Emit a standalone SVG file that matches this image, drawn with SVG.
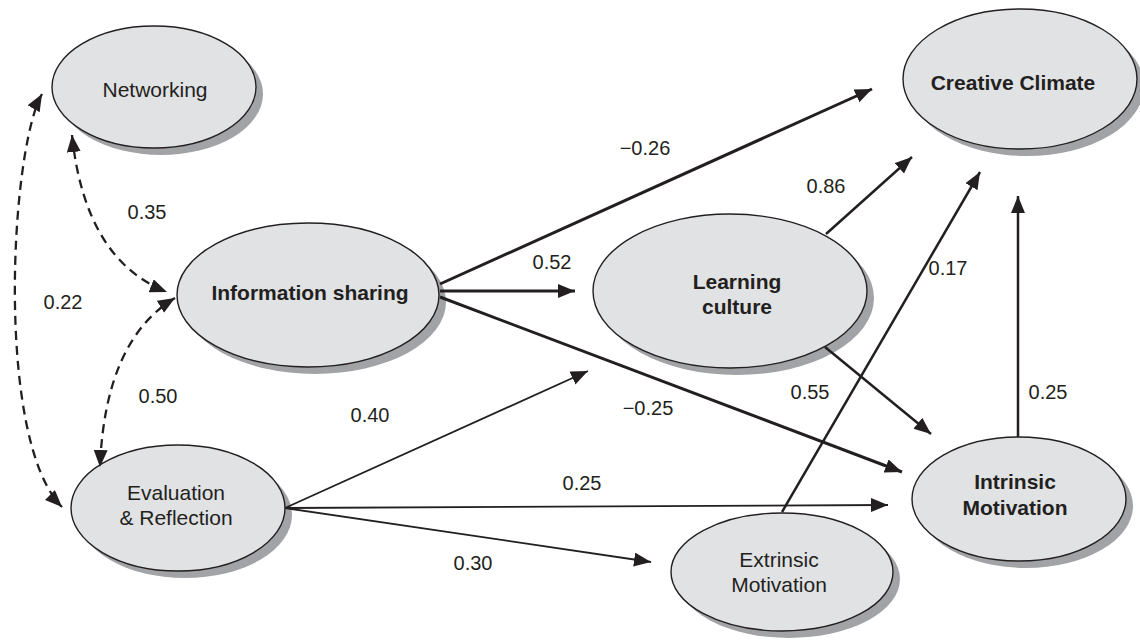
<svg xmlns="http://www.w3.org/2000/svg" width="1140" height="644" viewBox="0 0 1140 644">
<defs>
<style>
.t{font-family:"Liberation Sans",Arial,Helvetica,sans-serif;font-size:21px;fill:#231f20;text-anchor:middle}
.b{font-weight:bold}
.lbl{font-family:"Liberation Sans",Arial,Helvetica,sans-serif;font-size:20px;fill:#231f20;text-anchor:middle}
.thick{fill:none;stroke:#231f20;stroke-width:3;marker-end:url(#ah)}
.med{fill:none;stroke:#231f20;stroke-width:2.5;marker-end:url(#ah)}
.thin{fill:none;stroke:#231f20;stroke-width:1.8;marker-end:url(#ah)}
.dash{fill:none;stroke:#231f20;stroke-width:2.3;stroke-dasharray:9 6;marker-start:url(#ahs);marker-end:url(#ah)}
</style>
<marker id="ah" markerUnits="userSpaceOnUse" markerWidth="20" markerHeight="16" refX="17" refY="7" orient="auto">
<path d="M0,0 L17,7 L0,14 Z" fill="#231f20"/>
</marker>
<marker id="ahs" markerUnits="userSpaceOnUse" markerWidth="20" markerHeight="16" refX="17" refY="7" orient="auto-start-reverse">
<path d="M0,0 L17,7 L0,14 Z" fill="#231f20"/>
</marker>
</defs>
<rect width="1140" height="644" fill="#ffffff"/>

<g id="node-networking">
<ellipse fill="#a2a3a6" cx="161" cy="94" rx="102" ry="61"/>
<ellipse fill="#e1e2e4" stroke="#231f20" stroke-width="1.4" cx="154" cy="87" rx="102" ry="61"/>
<text class="t" x="155" y="97">Networking</text>
</g>
<g id="node-information-sharing">
<ellipse fill="#a2a3a6" cx="315" cy="302" rx="131" ry="72"/>
<ellipse fill="#e1e2e4" stroke="#231f20" stroke-width="1.4" cx="308" cy="295" rx="131" ry="72"/>
<text class="t b" x="310" y="300">Information sharing</text>
</g>
<g id="node-evaluation">
<ellipse fill="#a2a3a6" cx="185" cy="515" rx="107" ry="63"/>
<ellipse fill="#e1e2e4" stroke="#231f20" stroke-width="1.4" cx="178" cy="508" rx="107" ry="63"/>
<text class="t" x="176" y="500">Evaluation</text>
<text class="t" x="176" y="525">&amp; Reflection</text>
</g>
<g id="node-learning-culture">
<ellipse fill="#a2a3a6" cx="737" cy="298" rx="137" ry="77"/>
<ellipse fill="#e1e2e4" stroke="#231f20" stroke-width="1.4" cx="730" cy="291" rx="137" ry="77"/>
<text class="t b" x="737" y="289">Learning</text>
<text class="t b" x="737" y="314">culture</text>
</g>
<g id="node-creative-climate">
<ellipse fill="#a2a3a6" cx="1027" cy="86" rx="117" ry="70"/>
<ellipse fill="#e1e2e4" stroke="#231f20" stroke-width="1.4" cx="1020" cy="79" rx="117" ry="70"/>
<text class="t b" x="1013" y="90">Creative Climate</text>
</g>
<g id="node-intrinsic-motivation">
<ellipse fill="#a2a3a6" cx="1026" cy="506" rx="107" ry="62"/>
<ellipse fill="#e1e2e4" stroke="#231f20" stroke-width="1.4" cx="1019" cy="499" rx="107" ry="62"/>
<text class="t b" x="1015" y="489">Intrinsic</text>
<text class="t b" x="1015" y="515">Motivation</text>
</g>
<g id="node-extrinsic-motivation">
<ellipse fill="#a2a3a6" cx="789" cy="579" rx="111" ry="59"/>
<ellipse fill="#e1e2e4" stroke="#231f20" stroke-width="1.4" cx="782" cy="572" rx="111" ry="59"/>
<text class="t" x="779" y="567">Extrinsic</text>
<text class="t" x="779" y="592">Motivation</text>
</g>

<g id="connectors">
<path class="dash" d="M72,135 Q85,260 167,292"/>
<path class="dash" d="M175,298 Q105,340 100,467"/>
<path class="dash" d="M42,94 C10,150 -5,440 62,507"/>
<line class="thick" x1="440" y1="284" x2="872" y2="89"/>
<line class="thick" x1="440" y1="291" x2="575" y2="291"/>
<line class="thick" x1="440" y1="297" x2="902" y2="472"/>
<line class="med" x1="826" y1="234" x2="912" y2="157"/>
<line class="med" x1="825" y1="347" x2="931" y2="434"/>
<line class="med" x1="782" y1="512" x2="980" y2="172"/>
<line class="med" x1="1018" y1="437" x2="1018" y2="196"/>
<line class="thin" x1="285" y1="508" x2="588" y2="371"/>
<line class="thin" x1="285" y1="508" x2="888" y2="505"/>
<line class="thin" x1="285" y1="508" x2="651" y2="562"/>
</g>

<g id="labels">
<text class="lbl" x="147" y="219">0.35</text>
<text class="lbl" x="63" y="309">0.22</text>
<text class="lbl" x="158" y="403">0.50</text>
<text class="lbl" x="645" y="155">−0.26</text>
<text class="lbl" x="826" y="193">0.86</text>
<text class="lbl" x="552" y="269">0.52</text>
<text class="lbl" x="948" y="275">0.17</text>
<text class="lbl" x="810" y="399">0.55</text>
<text class="lbl" x="1048" y="399">0.25</text>
<text class="lbl" x="648" y="415">−0.25</text>
<text class="lbl" x="582" y="490">0.25</text>
<text class="lbl" x="370" y="422">0.40</text>
<text class="lbl" x="473" y="570">0.30</text>
</g>
</svg>
